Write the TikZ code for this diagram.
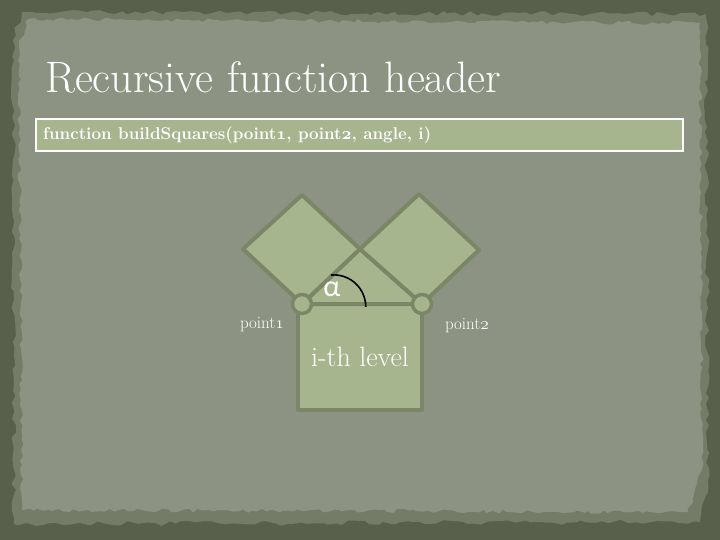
\documentclass[tikz,border=0pt]{standalone}
\usepackage{fontspec}
\usetikzlibrary{decorations.pathmorphing}
\newfontfamily\alphafont{Carlito}
\definecolor{frame}{RGB}{88,95,75}
\definecolor{rim}{RGB}{116,124,104}
\definecolor{paper}{RGB}{141,147,131}
\definecolor{leaf}{RGB}{167,181,143}
\definecolor{edge}{RGB}{122,135,102}
\newcommand{\oldnum}[2][m]{{\usefont{OML}{cmm}{#1}{it}#2}}
\tikzset{
	sq/.style={fill=leaf, draw=edge, line width=4pt, line join=round},
	lbl/.style={text=white, inner sep=0pt},
}
\begin{document}
\begin{tikzpicture}[x=1pt,y=-1pt]
	\useasboundingbox (0,0) rectangle (720,540);
	\fill[frame] (0,0) rectangle (720,540);
	\pgfmathsetseed{11}
	\fill[rim, decorate, decoration={random steps,segment length=7pt,amplitude=2.5pt}] (22,12) -- (706,14) -- (708,480) -- (700,522) -- (14,524) -- (13,40) -- cycle;
	\fill[paper, decorate, decoration={random steps,segment length=5pt,amplitude=2pt}] (28,19) -- (700,23) -- (702,470) -- (688,512) -- (22,510) -- (19,45) -- cycle;

	\node[lbl, anchor=base west, font=\fontsize{44}{44}\selectfont] (title) at (45,93) {Recursive function header};
	\draw[fill=leaf, draw=white, line width=2.5pt] (36,119) rectangle (683,151);
	\node[lbl, anchor=base west, font=\fontsize{17}{17}\selectfont\bfseries] (call) at (43,140) {function buildSquares(point\oldnum[b]{1}, point\oldnum[b]{2}, angle, i)};

	\coordinate (p1) at (302,304);
	\coordinate (p2) at (422,304);
	\coordinate (top) at (360,249);
	\draw[sq] (298,304) rectangle (422,410);
	\draw[sq] (p1) -- (top) -- (p2) -- cycle;
	\draw[sq] (p1) -- (top) -- (302,195) -- (243,249) -- cycle;
	\draw[sq] (top) -- (p2) -- (479,250) -- (419,194) -- cycle;
	\node[sq, circle, minimum size=19pt, inner sep=0pt, line width=3.5pt] (c1) at (p1) {};
	\node[sq, circle, minimum size=19pt, inner sep=0pt, line width=3.5pt] (c2) at (p2) {};
	\draw[line width=1.6pt] (331,275) arc[start angle=-95, end angle=0, radius=32];

	\node[lbl, font=\alphafont\fontsize{30}{30}\selectfont] (alpha) at (332,289) {α};
	\node[lbl, font=\fontsize{17}{17}\selectfont] (lbl1) at (262,325) {point\oldnum{1}};
	\node[lbl, font=\fontsize{17}{17}\selectfont] (lbl2) at (467,326) {point\oldnum{2}};
	\node[lbl, font=\fontsize{28}{28}\selectfont] (level) at (360,357) {i-th level};
\end{tikzpicture}
\end{document}
